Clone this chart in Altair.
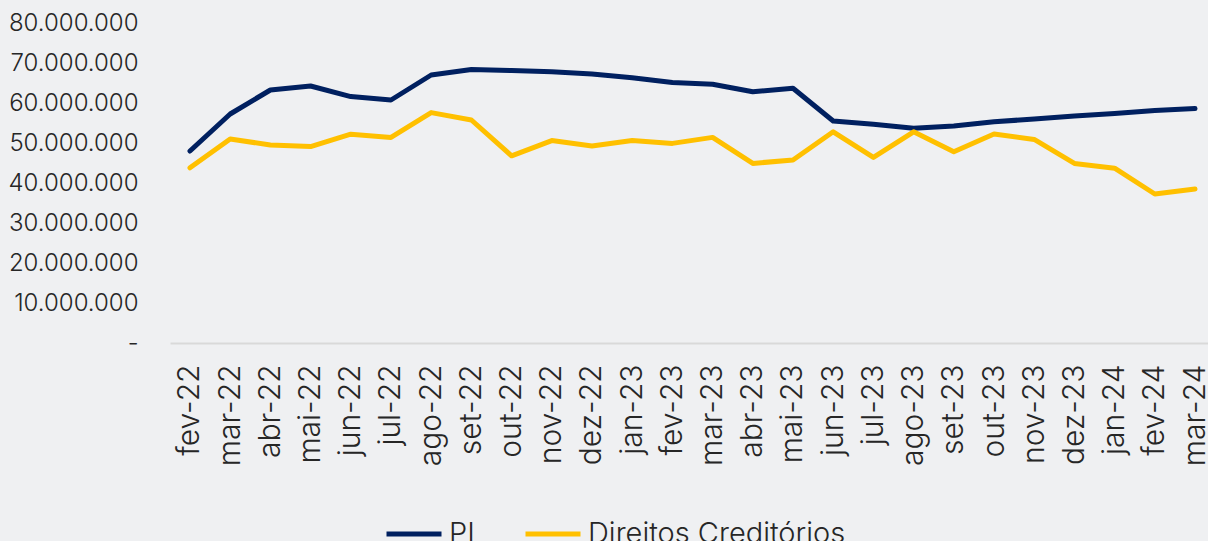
import altair as alt
import pandas as pd

months = ["fev-22", "mar-22", "abr-22", "mai-22", "jun-22", "jul-22", "ago-22", "set-22",
          "out-22", "nov-22", "dez-22", "jan-23", "fev-23", "mar-23", "abr-23", "mai-23",
          "jun-23", "jul-23", "ago-23", "set-23", "out-23", "nov-23", "dez-23", "jan-24",
          "fev-24", "mar-24"]

# values in millions
pl_mi = [48.0, 57.25, 63.25, 64.25, 61.6, 60.75, 67.0, 68.4, 68.1, 67.8, 67.25, 66.3,
         65.1, 64.7, 62.8, 63.7, 55.5, 54.7, 53.7, 54.25, 55.3, 56.0, 56.75, 57.4, 58.1, 58.6]
dc_mi = [43.8, 51.0, 49.5, 49.1, 52.2, 51.4, 57.6, 55.75, 46.8, 50.6, 49.25, 50.6,
         49.9, 51.4, 44.9, 45.75, 52.8, 46.4, 52.8, 47.8, 52.25, 50.9, 44.9, 43.7, 37.25, 38.5]

series = ["PL", "Direitos Creditórios"]
colors = ["#002060", "#ffc000"]
y_ticks = [0, 10000000, 20000000, 30000000, 40000000, 50000000, 60000000, 70000000, 80000000]

rows = []
for m, v in zip(months, pl_mi):
    rows.append({"mes": m, "serie": series[0], "valor": v * 1e6})
for m, v in zip(months, dc_mi):
    rows.append({"mes": m, "serie": series[1], "valor": v * 1e6})
df = pd.DataFrame(rows)

FONT = "Inter"
TXT = "#262626"

chart = alt.Chart(df).mark_line(
    strokeWidth=5, strokeCap="round", strokeJoin="round"
).encode(
    x=alt.X("mes:N", sort=months,
            scale=alt.Scale(type="point", padding=0.41, align=0.606),
            axis=alt.Axis(title=None, labelAngle=-90, labelAlign="right",
                          labelBaseline="middle", labelPadding=21, ticks=False,
                          domainColor="#d9d9d9", domainWidth=2, grid=False,
                          labelFontSize=30, labelColor=TXT, labelFont=FONT,
                          labelFontWeight=300)),
    y=alt.Y("valor:Q", scale=alt.Scale(domain=[0, 80000000], nice=False),
            axis=alt.Axis(title=None, values=y_ticks, ticks=False, domain=False,
                          grid=False, labelPadding=32, labelFontSize=24,
                          labelColor=TXT, labelFont=FONT, labelFontWeight=300,
                          labelExpr="datum.value == 0 ? '-' : replace(replace(format(datum.value, ',.0f'), ',', '.'), ',', '.')")),
    color=alt.Color("serie:N",
                    scale=alt.Scale(domain=series, range=colors),
                    legend=alt.Legend(title=None, orient="none", legendX=214, legendY=481,
                                      direction="horizontal",
                                      symbolSize=3025, symbolStrokeWidth=5,
                                      labelFontSize=29, labelFont=FONT, labelColor=TXT,
                                      labelFontWeight=300, labelOffset=5,
                                      columnPadding=31, labelLimit=500)),
).properties(
    width=1038, height=320,
    background="#eff0f2",
    autosize=alt.AutoSizeParams(type="none"),
    padding={"left": 170, "top": 23, "right": 0, "bottom": 198},
).configure_view(stroke=None)

chart.save("out.html", embed_options={"renderer": "svg", "actions": False})
